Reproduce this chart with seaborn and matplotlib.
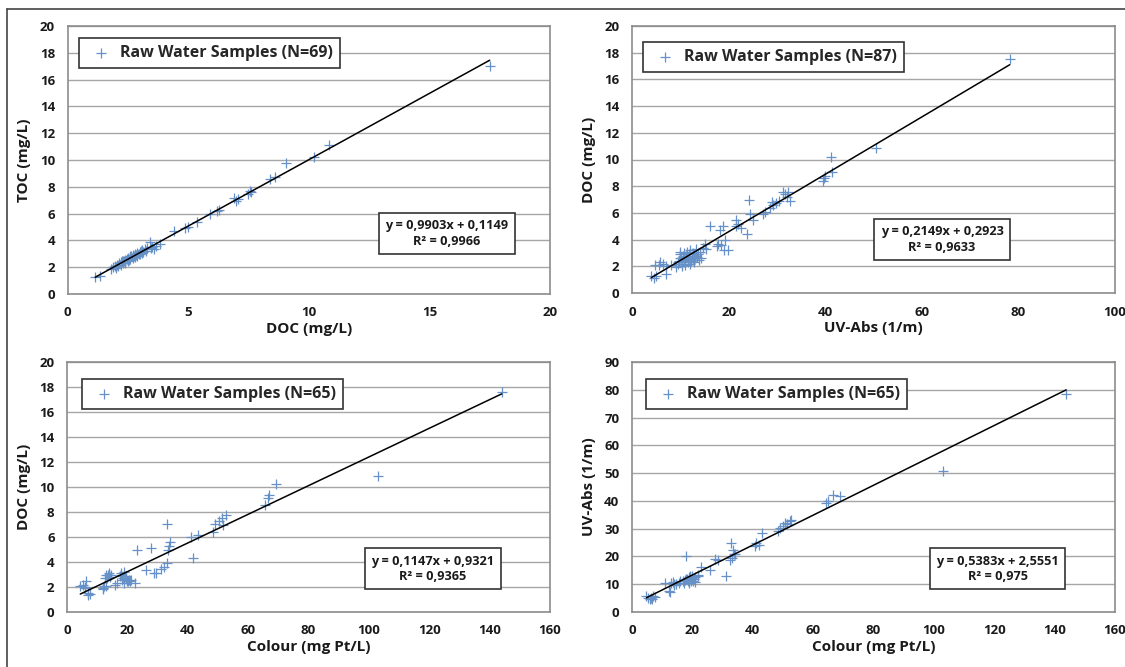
import numpy as np
import pandas as pd
import matplotlib
matplotlib.use('Agg')
import matplotlib.pyplot as plt
from matplotlib.lines import Line2D
import seaborn as sns

# ------------------------------------------------------------------
# data
# ------------------------------------------------------------------
# panel 1 : DOC vs TOC (N=69)
doc_1 = [1.15, 1.35, 1.8, 1.9, 2.0, 2.05, 2.1, 2.15, 2.2, 2.25, 2.3, 2.35, 2.4, 2.4, 2.45, 2.5, 2.5,
         2.55, 2.6, 2.6, 2.65, 2.7, 2.7, 2.75, 2.8, 2.8, 2.85, 2.9, 2.9, 2.95, 3.0, 3.0, 3.05, 3.1,
         3.1, 3.15, 3.2, 3.25, 3.3, 3.4, 3.45, 3.6, 3.65, 3.85, 2.2, 2.3, 1.95, 2.5, 2.6, 3.5,
         4.4, 4.85, 5.0, 5.35, 5.9, 6.2, 6.3, 6.9, 7.0, 7.05, 7.5, 7.55, 7.6, 8.4, 8.6, 9.05, 10.2,
         10.85, 17.5]
toc_1 = [1.25, 1.35, 1.9, 2.0, 1.95, 2.2, 2.1, 2.35, 2.2, 2.45, 2.3, 2.5, 2.3, 2.55, 2.6, 2.45, 2.7,
         2.55, 2.75, 2.6, 2.8, 2.65, 2.9, 2.8, 2.95, 2.75, 2.9, 3.05, 2.85, 3.0, 3.1, 2.95, 3.2, 3.05,
         3.25, 3.15, 3.35, 3.2, 3.4, 3.85, 3.45, 3.35, 3.6, 3.75, 2.4, 2.5, 2.1, 2.6, 2.85, 3.5,
         4.7, 4.95, 5.0, 5.35, 5.95, 6.2, 6.3, 7.2, 6.95, 7.1, 7.5, 7.7, 7.6, 8.55, 8.7, 9.75, 10.25,
         11.1, 17.0]

# panel 2 : UV-Abs vs DOC (N=87)
uv_2 = [4.0, 4.5, 5.0, 4.7, 5.7, 5.5, 6.5, 7.0, 7.1, 8.0, 9.2, 9.5, 9.8, 10.0, 10.0, 10.2, 10.4,
        10.5, 10.7, 10.9, 11.0, 11.2, 11.4, 11.5, 11.7, 11.9, 12.0, 12.2, 12.4, 12.6, 12.8, 13.0,
        13.2, 13.5, 13.8, 14.0, 10.3, 10.8, 11.6, 12.1, 9.9, 12.9, 13.3, 14.2, 14.7, 15.1, 15.4,
        16.1, 17.5, 17.8, 18.3, 18.5, 18.9, 19.0, 19.2, 19.9, 21.5, 21.6, 21.9, 22.5, 23.9, 24.2,
        24.5, 25.0, 27.1, 27.5, 28.5, 28.9, 29.2, 29.9, 30.5, 31.3, 31.6, 32.3, 32.7, 32.0, 39.6,
        39.7, 40.0, 41.3, 41.5, 50.6, 78.2, 9.6, 11.1, 12.7, 13.6]
doc_2 = [1.25, 1.1, 1.25, 2.1, 2.35, 2.1, 2.2, 1.4, 2.0, 2.1, 1.95, 2.2, 2.4, 2.9, 3.1, 2.6, 2.2,
         2.8, 3.0, 2.5, 2.1, 2.7, 3.1, 2.3, 2.9, 2.6, 3.2, 2.4, 2.8, 3.0, 2.3, 2.6,
         2.9, 2.7, 2.5, 3.1, 2.0, 2.35, 2.55, 2.15, 2.65, 2.75, 3.3, 2.65, 3.4, 3.7, 3.3,
         5.0, 3.5, 3.7, 4.7, 3.6, 5.0, 3.2, 4.0, 3.2, 5.45, 5.0, 5.2, 4.9, 4.4, 7.0,
         5.9, 5.5, 5.9, 6.1, 6.4, 6.8, 6.6, 6.75, 6.9, 7.55, 7.45, 7.6, 6.9, 7.2, 8.4,
         8.6, 8.8, 10.2, 9.1, 10.85, 17.55, 2.3, 2.75, 2.45, 2.95]

# panel 3 : Colour vs DOC (N=65)
col_3 = [4.4, 5.3, 6.0, 6.4, 6.8, 7.0, 7.5, 11.9, 12.3, 12.5, 12.8, 13.0, 13.5, 13.9, 14.2, 14.5,
         15.8, 16.5, 17.5, 18.0, 18.3, 18.6, 19.0, 19.3, 19.7, 20.2, 20.5, 21.3, 22.4, 23.2, 26.1,
         27.7, 28.9, 29.6, 31.0, 32.0, 33.1, 33.1, 33.5, 33.8, 34.0, 41.2, 41.8, 43.4, 48.4, 48.9,
         50.5, 51.2, 51.7, 52.8, 65.5, 66.6, 67.0, 69.2, 103.1, 144.0,
         13.2, 18.8, 20.0, 12.0, 19.5, 17.8, 5.8, 14.0, 21.0]
doc_3 = [2.05, 2.2, 1.9, 2.45, 1.35, 1.5, 1.45, 1.95, 2.05, 2.75, 3.0, 2.05, 3.0, 3.0, 2.8, 2.95,
         2.2, 2.35, 2.9, 3.15, 2.6, 2.75, 2.35, 2.9, 2.85, 2.45, 2.6, 2.6, 2.3, 5.0, 3.4,
         5.1, 3.1, 3.15, 3.45, 3.6, 3.9, 7.05, 5.0, 5.3, 5.6, 5.97, 4.3, 6.2, 6.4, 7.05,
         7.3, 7.5, 7.0, 7.8, 8.6, 9.1, 9.4, 10.25, 10.85, 17.6,
         2.7, 3.2, 2.5, 1.85, 2.65, 2.95, 2.0, 3.1, 2.45]

# panel 4 : Colour vs UV-Abs (N=65)
col_4 = [4.8, 5.2, 5.9, 6.3, 7.0, 7.5, 10.8, 12.3, 12.5, 13.0, 13.5, 14.0, 14.5, 15.5, 16.0, 17.0,
         17.5, 18.0, 18.2, 18.5, 18.8, 19.0, 19.3, 19.6, 20.0, 20.3, 20.6, 21.0, 21.9, 23.0, 25.7,
         27.4, 28.5, 31.0, 32.4, 32.9, 33.5, 33.8, 34.2, 40.7, 41.2, 42.0, 43.2, 48.4, 48.9, 50.0,
         50.6, 51.5, 52.3, 52.8, 64.4, 65.0, 66.6, 68.8, 102.9, 143.8,
         18.0, 19.8, 20.8, 22.0, 17.2, 19.0, 13.8, 6.5, 33.0]
uv_4 = [5.6, 4.9, 4.7, 5.2, 5.6, 5.3, 10.4, 7.6, 7.2, 10.4, 10.8, 9.8, 10.2, 10.6, 11.0, 11.2,
        11.6, 20.3, 12.0, 11.0, 12.5, 11.5, 13.0, 11.2, 12.2, 11.0, 11.8, 12.6, 12.8, 16.2, 15.2,
        19.1, 18.8, 13.1, 18.8, 24.8, 22.4, 21.0, 20.8, 23.6, 24.8, 24.0, 28.4, 29.0, 30.2, 31.0,
        32.0, 31.6, 32.6, 33.0, 39.2, 39.8, 42.0, 41.6, 50.6, 78.5,
        11.8, 12.8, 10.8, 13.5, 10.5, 10.6, 10.0, 4.6, 19.5]

# Excel trend line coefficients shown on the chart
slopes = [0.9903, 0.2149, 0.1147, 0.5383]
intercepts = [0.1149, 0.2923, 0.9321, 2.5551]
eq_labels = ['y = 0,9903x + 0,1149\nR² = 0,9966',
             'y = 0,2149x + 0,2923\nR² = 0,9633',
             'y = 0,1147x + 0,9321\nR² = 0,9365',
             'y = 0,5383x + 2,5551\nR² = 0,975']
legend_labels = ['Raw Water Samples (N=69)', 'Raw Water Samples (N=87)',
                 'Raw Water Samples (N=65)', 'Raw Water Samples (N=65)']
x_labels = ['DOC (mg/L)', 'UV-Abs (1/m)', 'Colour (mg Pt/L)', 'Colour (mg Pt/L)']
y_labels = ['TOC (mg/L)', 'DOC (mg/L)', 'DOC (mg/L)', 'UV-Abs (1/m)']
x_lims = [(0, 20), (0, 100), (0, 160), (0, 160)]
x_steps = [5, 20, 20, 20]
y_lims = [(0, 20), (0, 20), (0, 20), (0, 90)]
y_steps = [2, 2, 2, 10]

xs = [doc_1, uv_2, col_3, col_4]
ys = [toc_1, doc_2, doc_3, uv_4]

# ------------------------------------------------------------------
sns.set_style("white")
plt.rcParams['font.family'] = ['Open Sans', 'DejaVu Sans']
plt.rcParams['font.weight'] = 'bold'

fig = plt.figure(figsize=(11.25, 6.67), dpi=100)
W, H = 1125, 667

# axes boxes in pixels: left, right, top, bottom
boxes = [(67.5, 550, 26, 294), (632, 1115, 26, 293), (67, 550, 362, 612), (632, 1115, 362, 612)]
leg_pos = [(0.024, 0.955), (0.023, 0.94), (0.031, 0.932), (0.029, 0.932)]
eq_pos = [(0.786, 0.225), (0.642, 0.20), (0.758, 0.173), (0.757, 0.173)]

blue = '#6690c8'
frame = '#8c8c8c'

for i in range(4):
    l, r, t, b = boxes[i]
    ax = fig.add_axes([l / W, 1 - b / H, (r - l) / W, (b - t) / H])
    df = pd.DataFrame({'x': xs[i], 'y': ys[i]})
    sns.scatterplot(data=df, x='x', y='y', marker='+', color=blue, s=50, linewidth=0.9,
                    ax=ax, label=legend_labels[i], zorder=3)
    # trend line over data range
    xx = np.array([min(xs[i]), max(xs[i])])
    line_df = pd.DataFrame({'x': xx, 'y': slopes[i] * xx + intercepts[i]})
    sns.lineplot(data=line_df, x='x', y='y', color='black', linewidth=1.1, ax=ax, zorder=4)

    ax.set_xlim(*x_lims[i])
    ax.set_ylim(*y_lims[i])
    ax.set_xticks(np.arange(x_lims[i][0], x_lims[i][1] + 1, x_steps[i]))
    ax.set_yticks(np.arange(y_lims[i][0], y_lims[i][1] + 1, y_steps[i]))
    ax.yaxis.grid(True, color='#a6a6a6', linewidth=1.0)
    ax.set_axisbelow(True)
    for s in ax.spines.values():
        s.set_color(frame)
        s.set_linewidth(1.2)
    ax.tick_params(axis='both', direction='out', length=5, width=1, color=frame,
                   labelsize=9.5, pad=4)
    for lab in ax.get_xticklabels() + ax.get_yticklabels():
        lab.set_fontweight('bold')
        lab.set_color('#1a1a1a')
    ax.set_xlabel(x_labels[i], fontsize=11, fontweight='bold', labelpad=2, color='#1a1a1a')
    ax.set_ylabel(y_labels[i], fontsize=11, fontweight='bold', labelpad=6, color='#1a1a1a')

    leg = ax.legend(loc='upper left', bbox_to_anchor=leg_pos[i], borderaxespad=0,
                    frameon=True, fancybox=False, edgecolor='#333333', framealpha=1,
                    handlelength=1.9, handletextpad=0.2, borderpad=0.45,
                    prop={'weight': 'bold', 'size': 11.5})
    leg.get_frame().set_linewidth(1.2)
    ax.text(eq_pos[i][0], eq_pos[i][1], eq_labels[i], transform=ax.transAxes,
            ha='center', va='center', fontsize=9.2, fontweight='bold', color='#1a1a1a',
            linespacing=1.25,
            bbox=dict(boxstyle='square,pad=0.5', facecolor='white', edgecolor='#333333',
                      linewidth=1.2), zorder=5)

# figure border (left and top edges visible in reference)
fig.add_artist(Line2D([7 / W, 7 / W], [0, 1 - 9 / H], color='#444444', linewidth=1.2))
fig.add_artist(Line2D([7 / W, 1], [1 - 9 / H, 1 - 9 / H], color='#444444', linewidth=1.2))

plt.savefig('out.png', dpi=100)
